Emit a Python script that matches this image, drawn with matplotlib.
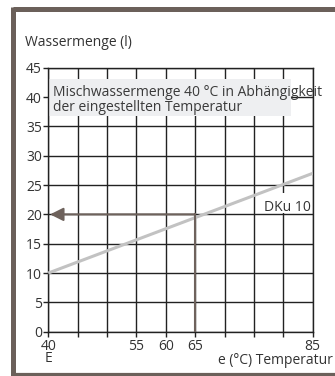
import matplotlib
matplotlib.use("Agg")
import matplotlib.pyplot as plt
from matplotlib.lines import Line2D
import matplotlib.patches as patches

plt.rcParams['font.family'] = ['Open Sans', 'DejaVu Sans']

# data
temp_ticks = [40, 45, 50, 55, 60, 65, 70, 75, 80, 85]
temp_labels = ['40\nE', '', '', '55', '60', '65', '', '', '', '85']
water_ticks = [0, 5, 10, 15, 20, 25, 30, 35, 40, 45]
line_temp = [40, 85]
line_water = [10, 27]
read_temp = 65
read_water = 20

frame_col = '#6b605a'
brown = '#6e625c'
txt_col = '#333333'

fig = plt.figure(figsize=(3.35, 3.76), dpi=100)
ax = fig.add_axes([0.1442, 0.1178, 0.7892, 0.702])
ax.set_xlim(40, 85)
ax.set_ylim(0, 45)
ax.set_xticks(temp_ticks)
ax.set_xticklabels(temp_labels)
ax.set_yticks(water_ticks)
ax.tick_params(length=3.6, width=1, colors='#222222', labelcolor=txt_col,
               labelsize=10)
ax.tick_params(axis='x', pad=1.5)
ax.tick_params(axis='y', pad=1)
for lab in ax.get_xticklabels():
    lab.set_linespacing(0.75)
for s in ax.spines.values():
    s.set_color('#222222')
    s.set_linewidth(1)

ax.grid(True, color='#222222', linewidth=1)
ax.set_axisbelow(True)

# note box
ax.add_patch(patches.Rectangle((40.1, 36.77), 41.15, 6.26, facecolor='#eeeff1',
                               edgecolor='none', zorder=2))
ax.text(40.85, 37.67, 'Mischwassermenge 40 °C in Abhängigkeit\nder eingestellten Temperatur',
        fontsize=10, color='#3a3a3a', va='baseline', ha='left', linespacing=0.95,
        zorder=3, clip_on=False)

# curve + label (white patch hides the gridline behind the label)
ax.plot(line_temp, line_water, color='#c2c2c2', linewidth=2.2, zorder=4,
        solid_capstyle='butt')
ax.add_patch(patches.Rectangle((76.5, 20.2), 8.3, 3.4, facecolor='white',
                               edgecolor='none', zorder=1))
ax.text(84.66, 20.63, 'DKu 10', fontsize=10, color=txt_col, ha='right', va='baseline',
        zorder=5)

# reading arrow
ax.plot([read_temp, read_temp], [0, read_water], color=brown, linewidth=1.5, zorder=5)
ax.annotate('', xy=(40.3, read_water), xytext=(read_temp, read_water),
            arrowprops=dict(arrowstyle='-|>,head_length=0.8,head_width=0.4',
                            color=brown, linewidth=1.5, shrinkA=0, shrinkB=0),
            zorder=6)

fig.text(25 / 335, 1 - 46 / 376, 'Wassermenge (l)', fontsize=10, color=txt_col,
         ha='left', va='baseline')
fig.text(333 / 335, 1 - 364 / 376, 'e (°C) Temperatur', fontsize=10, color=txt_col,
         ha='right', va='baseline')

# frame
fig.add_artist(Line2D([13.2 / 335, 1], [1 - 9.2 / 376, 1 - 9.2 / 376],
                      transform=fig.transFigure, color=frame_col, linewidth=3.6,
                      solid_capstyle='butt'))
fig.add_artist(Line2D([13.2 / 335, 13.2 / 335], [1 - 6.7 / 376, 0],
                      transform=fig.transFigure, color=frame_col, linewidth=3.6,
                      solid_capstyle='butt'))
fig.add_artist(Line2D([10.7 / 335, 1], [1.6 / 376, 1.6 / 376],
                      transform=fig.transFigure, color=frame_col, linewidth=2.3,
                      solid_capstyle='butt'))

fig.savefig('out.png', dpi=100)
